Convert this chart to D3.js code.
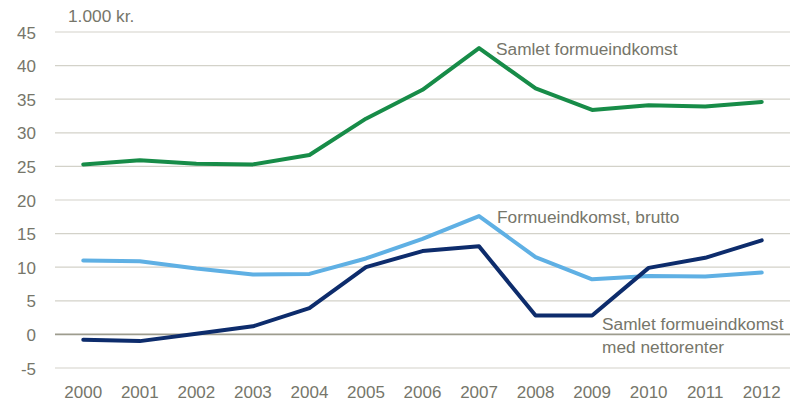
<!DOCTYPE html>
<html>
<head>
<meta charset="utf-8">
<script src="https://cdn.jsdelivr.net/npm/d3@7"></script>
<style>
  body { margin: 0; background: #fff; }
  svg text { font-family: "Liberation Sans", Arial, sans-serif; fill: #76766a; }
</style>
</head>
<body>
<div id="chart"></div>
<script>
// data
var years = ["2000", "2001", "2002", "2003", "2004", "2005", "2006", "2007", "2008", "2009", "2010", "2011", "2012"];
var samlet = [25.3, 25.9, 25.4, 25.3, 26.7, 32.1, 36.4, 42.6, 36.6, 33.4, 34.1, 33.9, 34.6];
var brutto = [11.0, 10.9, 9.8, 8.9, 9.0, 11.3, 14.2, 17.6, 11.5, 8.2, 8.7, 8.6, 9.2];
var netto = [-0.8, -1.0, 0.1, 1.2, 3.9, 10.0, 12.4, 13.1, 2.8, 2.8, 9.9, 11.4, 14.0];
var yTicks = [-5, 0, 5, 10, 15, 20, 25, 30, 35, 40, 45];

var series = [
  { name: "Samlet formueindkomst", values: samlet, color: "#178c48" },
  { name: "Formueindkomst, brutto", values: brutto, color: "#5fb0e4" },
  { name: "Samlet formueindkomst med nettorenter", values: netto, color: "#0d2c6c" }
];

// dimensions
var width = 805, height = 414;
var margin = { top: 32, right: 15, bottom: 46, left: 55 };
var innerW = width - margin.left - margin.right,
    innerH = height - margin.top - margin.bottom;

var svg = d3.select("#chart")
  .append("svg")
  .attr("width", width)
  .attr("height", height)
  .append("g")
  .attr("transform", "translate(" + margin.left + "," + margin.top + ")");

var x = d3.scaleBand()
  .domain(years)
  .range([0, innerW]);

var y = d3.scaleLinear()
  .domain([-5, 45])
  .range([innerH, 0]);

// gridlines
svg.selectAll(".grid")
  .data(yTicks)
  .enter()
  .append("line")
  .attr("x1", 0)
  .attr("x2", innerW)
  .attr("y1", function(d) { return y(d); })
  .attr("y2", function(d) { return y(d); })
  .attr("stroke", function(d) { return d === 0 ? "#9d9c8e" : "#d3d2c9"; })
  .attr("stroke-width", function(d) { return d === 0 ? 1.6 : 1.2; });

// y axis labels
var yAxis = svg.append("g")
  .call(d3.axisLeft(y).tickValues(yTicks).tickFormat(String).tickSize(0).tickPadding(19));
yAxis.select(".domain").remove();
yAxis.selectAll("text")
  .style("font-size", "17px")
  .attr("fill", "#76766a")
  .attr("dy", "0.36em");

// x axis labels
var xAxis = svg.append("g")
  .attr("transform", "translate(0," + innerH + ")")
  .call(d3.axisBottom(x).tickSize(0).tickPadding(18));
xAxis.select(".domain").remove();
xAxis.selectAll("text")
  .style("font-size", "17px")
  .attr("fill", "#76766a");

// lines
var line = d3.line()
  .x(function(d, i) { return x(years[i]) + x.bandwidth() / 2; })
  .y(function(d) { return y(d); });

svg.selectAll(".series")
  .data(series)
  .enter()
  .append("path")
  .attr("d", function(d) { return line(d.values); })
  .attr("fill", "none")
  .attr("stroke", function(d) { return d.color; })
  .attr("stroke-width", 4)
  .attr("stroke-linejoin", "round")
  .attr("stroke-linecap", "round");

// labels
var root = d3.select("svg");
root.append("text").attr("x", 68).attr("y", 22).style("font-size", "17.3px").text("1.000 kr.");
root.append("text").attr("x", 496).attr("y", 55).style("font-size", "17.3px").text("Samlet formueindkomst");
root.append("text").attr("x", 497).attr("y", 223).style("font-size", "17.3px").text("Formueindkomst, brutto");
root.append("text").attr("x", 602).attr("y", 330).style("font-size", "17.3px").text("Samlet formueindkomst");
root.append("text").attr("x", 602).attr("y", 353).style("font-size", "17.3px").text("med nettorenter");
</script>
</body>
</html>
